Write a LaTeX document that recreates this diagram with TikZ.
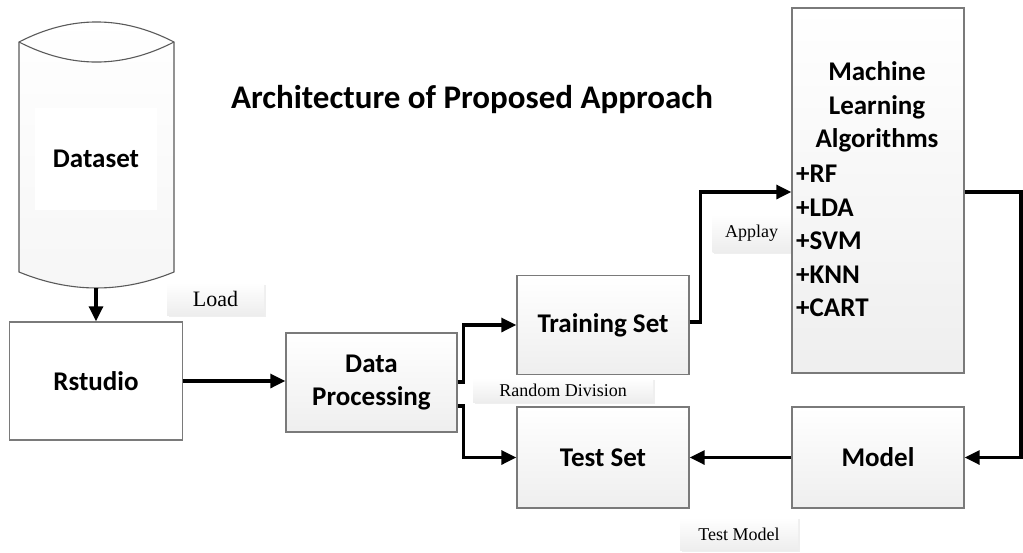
\documentclass[tikz,border=0pt]{standalone}
\usepackage{fontspec}
\setmainfont{Carlito}
\newfontfamily\lblfont{Liberation Serif}
\usetikzlibrary{arrows.meta,shadows}
\definecolor{edgegray}{HTML}{7A7A7A}
\definecolor{cangray}{HTML}{5A5A5A}
\begin{document}
\begin{tikzpicture}[x=1pt,y=-1pt,
  nodetext/.style={font=\bfseries\fontsize{27}{33.4}\selectfont, text=black},
  procbox/.style={nodetext, draw=edgegray, line width=1.4pt, top color=white, bottom color=gray!13, inner sep=0pt},
  plainbox/.style={nodetext, draw=edgegray, line width=1.4pt, fill=white, inner sep=0pt},
  conn/.style={draw=black, line width=3.2pt, -{Triangle[length=15pt,width=14pt]}},
  tag/.style={font=\lblfont\fontsize{18}{20}\selectfont, top color=white, bottom color=gray!14, inner sep=0pt,
    drop shadow={opacity=0.12, shadow xshift=1.5pt, shadow yshift=-1.5pt}}
]
\useasboundingbox (0,0) rectangle (1023,552);
\fill[white] (0,0) rectangle (1023,552);

% title
\node[font=\bfseries\fontsize{33}{38}\selectfont] (title) at (472,100) {Architecture of Proposed Approach};

% dataset cylinder
\shade[top color=white, bottom color=gray!7, draw=cangray, line width=1.1pt]
  (19,42) .. controls (71,15.3) and (122,15.3) .. (174,42)
  -- (174,272) .. controls (122,293.3) and (71,293.3) .. (19,272) -- cycle;
\draw[cangray, line width=1.1pt] (19,42) .. controls (71,68.7) and (122,68.7) .. (174,42);
\node[nodetext, fill=white, minimum width=122pt, minimum height=102pt, inner sep=0pt] (db) at (96,159) {Dataset};
\coordinate (dbbot) at (96,288);

% process boxes
\node[plainbox, minimum width=173pt, minimum height=118pt] (rs) at (96,381) {Rstudio};
\node[procbox, minimum width=171pt, minimum height=99pt, align=center] (dp) at (371.5,382.5) {Data\\Processing};
\node[procbox, minimum width=172pt, minimum height=99pt] (tr) at (603,325) {Training Set};
\node[procbox, minimum width=172pt, minimum height=101pt] (te) at (603,457.5) {Test Set};
\node[procbox, minimum width=172pt, minimum height=101pt] (mo) at (878,457.5) {Model};
\node[procbox, minimum width=172pt, minimum height=365pt] (ml) at (878,190.5) {};
\node[nodetext, align=center] (mlhead) at (877,107) {Machine\\Learning\\Algorithms};
\node[nodetext, align=left, anchor=west, inner sep=0pt] (mllist) at (796,241) {+RF\\+LDA\\+SVM\\+KNN\\+CART};

% edge tags
\node[tag, font=\lblfont\fontsize{22}{24}\selectfont, minimum width=97pt, minimum height=32pt] (tload) at (215.5,299) {Load};
\node[tag, minimum width=78pt, minimum height=38pt] (tapp) at (751.5,233) {Applay};
\node[tag, minimum width=180pt, minimum height=24pt] (trand) at (563,390) {Random Division};
\node[tag, minimum width=118pt, minimum height=33pt] (ttest) at (739,534) {Test Model};

% connectors
\coordinate (rc) at (1021,0);
\draw[conn] (dbbot) -- (rs.north);
\draw[conn] (rs.east) -- (rs.east -| dp.west);
\draw[conn] ([yshift=0.5pt]dp.east) -- ++(6,0) |- (tr.west);
\draw[conn] ([yshift=-23.5pt]dp.east) -- ++(6,0) |- (te.west);
\draw[conn] ([yshift=3pt]tr.east) -- ++(11,0) |- ([yshift=-1.5pt]ml.west);
\draw[conn] ([yshift=-1.5pt]ml.east) -- ([yshift=-1.5pt]ml.east -| rc) |- (mo.east);
\draw[conn] (mo.west) -- (te.east);
\end{tikzpicture}
\end{document}
